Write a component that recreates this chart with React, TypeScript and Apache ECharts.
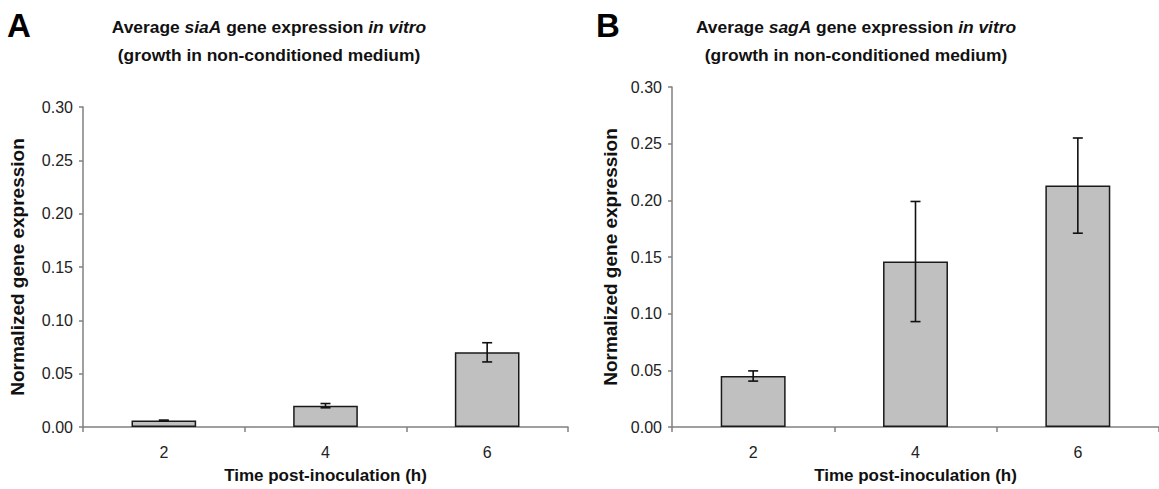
import React, { useEffect, useRef } from "react";
import * as echarts from "echarts";

const categories = ["2", "4", "6"];
const siaAMean = [0.006, 0.02, 0.07];
const siaAErr = [0.0005, 0.002, 0.009];
const sagAMean = [0.045, 0.146, 0.213];
const sagAErr = [0.0045, 0.053, 0.042];
const yMin = 0;
const yMax = 0.3;
const yInterval = 0.05;

const FONT = "'Liberation Sans', Arial, sans-serif";

function errorData(mean: number[], err: number[]) {
  return mean.map((m, i) => [i, m - err[i], m + err[i]]);
}

function renderError(params: any, api: any) {
  const x = api.value(0);
  const lo = api.coord([x, api.value(1)]);
  const hi = api.coord([x, api.value(2)]);
  const cap = 5;
  const style = { stroke: "#111", lineWidth: 1.6 };
  return {
    type: "group",
    children: [
      { type: "line", shape: { x1: lo[0], y1: lo[1], x2: hi[0], y2: hi[1] }, style },
      { type: "line", shape: { x1: lo[0] - cap, y1: lo[1], x2: lo[0] + cap, y2: lo[1] }, style },
      { type: "line", shape: { x1: hi[0] - cap, y1: hi[1], x2: hi[0] + cap, y2: hi[1] }, style },
    ],
  };
}

function xAxisCfg(gridIndex: number) {
  return {
    type: "category",
    gridIndex,
    data: categories,
    boundaryGap: true,
    name: "Time post-inoculation (h)",
    nameLocation: "middle",
    nameGap: 40,
    nameTextStyle: { fontFamily: FONT, fontWeight: "bold", fontSize: 17, color: "#111" },
    axisLine: { lineStyle: { color: "#808080", width: 1.5 } },
    axisTick: { show: true, inside: false, length: 5, alignWithLabel: false, lineStyle: { color: "#808080", width: 1.5 } },
    axisLabel: { margin: 17, fontFamily: FONT, fontSize: 16, color: "#222" },
  };
}

function yAxisCfg(gridIndex: number, nameGap: number) {
  return {
    type: "value",
    gridIndex,
    min: yMin,
    max: yMax,
    interval: yInterval,
    name: "Normalized gene expression",
    nameLocation: "middle",
    nameGap,
    nameTextStyle: { fontFamily: FONT, fontWeight: "bold", fontSize: 19, color: "#111" },
    splitLine: { show: false },
    axisLine: { show: true, lineStyle: { color: "#808080", width: 1.5 } },
    axisTick: { show: true, inside: false, length: 4, lineStyle: { color: "#808080", width: 1.5 } },
    axisLabel: {
      margin: 10,
      fontFamily: FONT,
      fontSize: 16,
      color: "#222",
      formatter: (v: number) => v.toFixed(2),
    },
  };
}

function titleText(x: number, gene: string) {
  return {
    type: "text",
    x,
    y: 13,
    style: {
      text: `{n|Average }{i|${gene}}{n| gene expression }{i|in vitro}\n{n|(growth in non-conditioned medium)}`,
      textAlign: "center",
      textVerticalAlign: "top",
      rich: {
        n: { fontFamily: FONT, fontWeight: "bold", fontSize: 17.4, fill: "#111", lineHeight: 28 },
        i: { fontFamily: FONT, fontWeight: "bold", fontStyle: "italic", fontSize: 17.4, fill: "#111", lineHeight: 28 },
      },
    },
  };
}

export default function App() {
  const ref = useRef<HTMLDivElement>(null);
  useEffect(() => {
    document.body.style.margin = "0";
    if (!ref.current) return;
    const chart = echarts.init(ref.current, null, { renderer: "svg" });
    const barStyle = { color: "#c0c0c0", borderColor: "#1a1a1a", borderWidth: 1.5 };
    chart.setOption({
      animation: false,
      backgroundColor: "#ffffff",
      grid: [
        { left: 83, top: 107, width: 485, height: 322 },
        { left: 672, top: 87, width: 488, height: 342 },
      ],
      xAxis: [xAxisCfg(0), xAxisCfg(1)],
      yAxis: [yAxisCfg(0, 56), yAxisCfg(1, 52)],
      graphic: [
        {
          type: "text",
          x: 7,
          y: 9,
          style: { text: "A", fontFamily: FONT, fontWeight: "bold", fontSize: 33, fill: "#000" },
        },
        {
          type: "text",
          x: 596,
          y: 9,
          style: { text: "B", fontFamily: FONT, fontWeight: "bold", fontSize: 33, fill: "#000" },
        },
        titleText(269, "siaA"),
        titleText(856, "sagA"),
      ],
      series: [
        {
          type: "bar",
          name: "siaA",
          xAxisIndex: 0,
          yAxisIndex: 0,
          data: siaAMean,
          barWidth: "40%",
          itemStyle: barStyle,
        },
        {
          type: "custom",
          name: "siaA error",
          xAxisIndex: 0,
          yAxisIndex: 0,
          data: errorData(siaAMean, siaAErr),
          renderItem: renderError,
          z: 5,
        },
        {
          type: "bar",
          name: "sagA",
          xAxisIndex: 1,
          yAxisIndex: 1,
          data: sagAMean,
          barWidth: "40%",
          itemStyle: barStyle,
        },
        {
          type: "custom",
          name: "sagA error",
          xAxisIndex: 1,
          yAxisIndex: 1,
          data: errorData(sagAMean, sagAErr),
          renderItem: renderError,
          z: 5,
        },
      ],
    });
    return () => chart.dispose();
  }, []);
  return <div ref={ref} style={{ width: 1159, height: 489 }} />;
}
